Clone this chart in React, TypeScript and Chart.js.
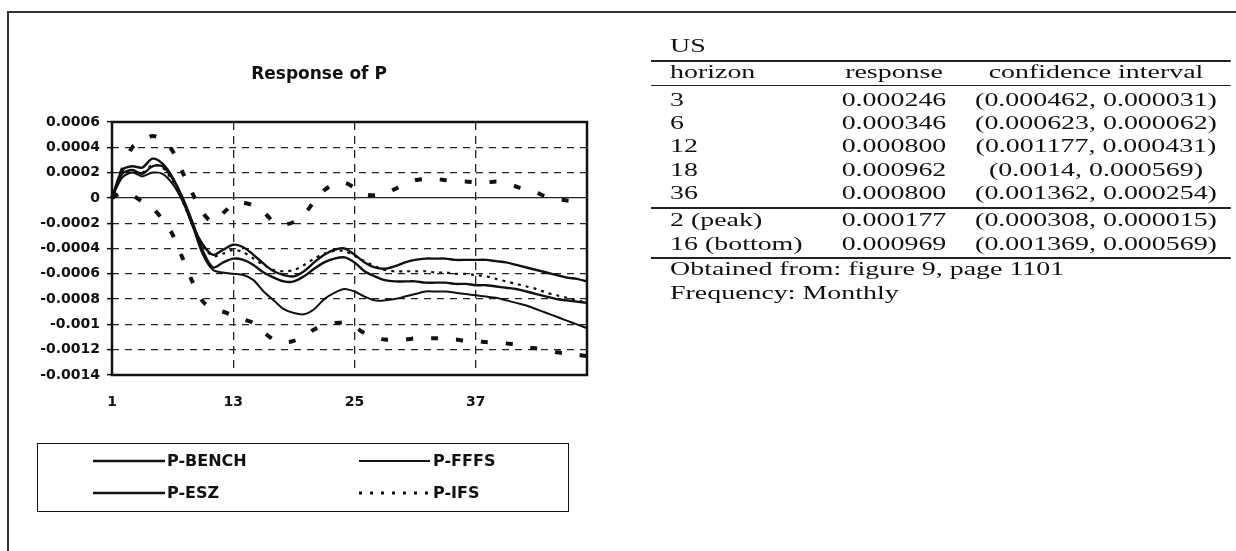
import React, { useEffect, useRef } from "react";
import { Chart, registerables } from "chart.js";

Chart.register(...registerables);

// ---------- chart data ----------
const months = [
  1, 2, 3, 4, 5, 6, 7, 8, 9, 10, 11, 12, 13, 14, 15, 16, 17, 18, 19, 20, 21, 22, 23, 24,
  25, 26, 27, 28, 29, 30, 31, 32, 33, 34, 35, 36, 37, 38, 39, 40, 41, 42, 43, 44, 45, 46, 47, 48,
];
const shownMonths = [1, 13, 25, 37];

const benchValues = [
  0, 0.00022, 0.00025, 0.00024, 0.00031, 0.00027, 0.00016, -0.00001, -0.00022, -0.00037,
  -0.00045, -0.00041, -0.00037, -0.00039, -0.00045, -0.00052, -0.00058, -0.00061, -0.00062, -0.00058,
  -0.00051, -0.00045, -0.00041, -0.0004, -0.00045, -0.00051, -0.00055, -0.00056, -0.00054, -0.00051,
  -0.00049, -0.00048, -0.00048, -0.00048, -0.00049, -0.00049, -0.00049, -0.00049, -0.0005, -0.00051,
  -0.00053, -0.00055, -0.00057, -0.00059, -0.00061, -0.00063, -0.00064, -0.00066,
];
const eszValues = [
  0, 0.00019, 0.00022, 0.00019, 0.00025, 0.00025, 0.00015, 0.0, -0.0002, -0.00042,
  -0.00055, -0.00051, -0.00048, -0.00049, -0.00053, -0.00059, -0.00063, -0.00066, -0.00066, -0.00062,
  -0.00056, -0.00051, -0.00048, -0.00047, -0.00051, -0.00058, -0.00062, -0.00065, -0.00066, -0.00066,
  -0.00066, -0.00067, -0.00067, -0.00067, -0.00068, -0.00068, -0.00069, -0.00069, -0.0007, -0.00071,
  -0.00072, -0.00074, -0.00076, -0.00078, -0.0008, -0.00081, -0.00082, -0.00083,
];
const fffsValues = [
  0, 0.00016, 0.0002, 0.00017, 0.0002, 0.00019, 0.00011, -0.00003, -0.00023, -0.00045,
  -0.00057, -0.00059, -0.0006, -0.00061, -0.00065, -0.00074, -0.00081, -0.00088, -0.00091, -0.00092,
  -0.00088, -0.0008, -0.00075, -0.00072, -0.00074, -0.00078, -0.00081, -0.00081, -0.0008, -0.00078,
  -0.00076, -0.00074, -0.00074, -0.00074, -0.00075, -0.00076, -0.00077, -0.00078, -0.00079, -0.00081,
  -0.00083, -0.00085, -0.00088, -0.00091, -0.00094, -0.00097, -0.001, -0.00103,
];
const ifsValues = [
  0, 0.0002, 0.00021, 0.0002, 0.00026, 0.00024, 0.00013, -0.00003, -0.00022, -0.00038,
  -0.00046, -0.00044, -0.00041, -0.00043, -0.00048, -0.00053, -0.00057, -0.00058, -0.00057, -0.00053,
  -0.00048, -0.00044, -0.00042, -0.00042, -0.00046, -0.0005, -0.00054, -0.00057, -0.00058, -0.00058,
  -0.00058, -0.00058, -0.00059, -0.00059, -0.0006, -0.0006, -0.00061, -0.00062, -0.00064, -0.00066,
  -0.00068, -0.0007, -0.00072, -0.00075, -0.00077, -0.00079, -0.00081, -0.00083,
];
const upperBand = [
  0, 0.00022, 0.0004, 0.00045, 0.00049, 0.00046, 0.00037, 0.0002, 0.00003, -0.00012,
  -0.00019, -0.00012, -0.00005, -0.00004, -0.00006, -0.00011, -0.00019, -0.00021, -0.00019, -0.00013,
  -0.00003, 0.00006, 0.00011, 0.00012, 0.00008, 0.00003, 0.00002, 0.00003, 0.00007, 0.00011,
  0.00014, 0.00015, 0.00015, 0.00014, 0.00013, 0.00013, 0.00012, 0.00012, 0.00013, 0.00012,
  0.00009, 0.00006, 0.00004, 0.00001, -0.00001, -0.00002, -0.00003, -0.00004,
];
const lowerBand = [
  0, 0.00004, 0.00002, -0.00003, -0.00008, -0.00017, -0.00029, -0.00048, -0.00067, -0.00082,
  -0.00088, -0.0009, -0.00093, -0.00096, -0.00099, -0.00106, -0.00112, -0.00114, -0.00113, -0.00109,
  -0.00104, -0.00101, -0.00099, -0.00099, -0.00102, -0.00107, -0.0011, -0.00112, -0.00112, -0.00112,
  -0.00111, -0.00111, -0.00111, -0.00112, -0.00112, -0.00113, -0.00113, -0.00114, -0.00114, -0.00115,
  -0.00116, -0.00118, -0.00119, -0.0012, -0.00122, -0.00123, -0.00124, -0.00125,
];

const yMin = -0.0014;
const yMax = 0.0006;
const yStep = 0.0002;

const chartTitle = "Response of P";
const legendLabels = ["P-BENCH", "P-FFFS", "P-ESZ", "P-IFS"];

// ---------- table data ----------
const tableTitle = "US";
const tableHeader = ["horizon", "response", "confidence interval"];
const tableRows = [
  ["3", "0.000246", "(0.000462, 0.000031)"],
  ["6", "0.000346", "(0.000623, 0.000062)"],
  ["12", "0.000800", "(0.001177, 0.000431)"],
  ["18", "0.000962", "(0.0014, 0.000569)"],
  ["36", "0.000800", "(0.001362, 0.000254)"],
];
const extremaRows = [
  ["2 (peak)", "0.000177", "(0.000308, 0.000015)"],
  ["16 (bottom)", "0.000969", "(0.001369, 0.000569)"],
];
const notes = ["Obtained from: figure 9, page 1101", "Frequency: Monthly"];

const SANS = "'DejaVu Sans', sans-serif";
const SERIF = "'Liberation Serif', 'Times New Roman', serif";

function ChartCanvas() {
  const ref = useRef<HTMLCanvasElement>(null);
  useEffect(() => {
    const canvas = ref.current;
    if (!canvas) return;
    const framePlugin = {
      id: "frame",
      afterDatasetsDraw(chart: any) {
        const { ctx, chartArea: a } = chart;
        ctx.save();
        ctx.strokeStyle = "#111";
        ctx.lineWidth = 2.5;
        ctx.strokeRect(a.left, a.top, a.right - a.left, a.bottom - a.top);
        ctx.restore();
      },
    };
    const tickFont = { family: SANS, size: 14, weight: "bold" as const };
    const chart = new Chart(canvas, {
      type: "line",
      data: {
        labels: months,
        datasets: [
          { label: "upper", data: upperBand, borderColor: "#111", borderWidth: 4, borderDash: [7, 18], pointRadius: 0, tension: 0.3, fill: false },
          { label: "lower", data: lowerBand, borderColor: "#111", borderWidth: 4, borderDash: [7, 18], pointRadius: 0, tension: 0.3, fill: false },
          { label: legendLabels[0], data: benchValues, borderColor: "#111", borderWidth: 2.4, pointRadius: 0, tension: 0.3, fill: false },
          { label: legendLabels[1], data: fffsValues, borderColor: "#111", borderWidth: 2, pointRadius: 0, tension: 0.3, fill: false },
          { label: legendLabels[2], data: eszValues, borderColor: "#111", borderWidth: 2.4, pointRadius: 0, tension: 0.3, fill: false },
          { label: legendLabels[3], data: ifsValues, borderColor: "#111", borderWidth: 2.2, borderDash: [3, 5], pointRadius: 0, tension: 0.3, fill: false },
        ],
      },
      options: {
        responsive: false,
        animation: false,
        devicePixelRatio: 1,
        layout: { padding: { left: 0, right: 23, top: 82, bottom: 0 } },
        plugins: {
          legend: { display: false },
          tooltip: { enabled: false },
          title: { display: false },
        },
        scales: {
          x: {
            type: "category",
            offset: false,
            grid: { color: "#222", lineWidth: 1.3, drawTicks: false },
            border: { display: false, dash: [8, 6] },
            ticks: {
              autoSkip: false,
              maxRotation: 0,
              padding: 19,
              color: "#111",
              font: tickFont,
              callback: (_v: any, i: number) =>
                shownMonths.includes(months[i]) ? String(months[i]) : null,
            },
            afterFit: (s: any) => {
              s.height = 55;
            },
          },
          y: {
            min: yMin,
            max: yMax,
            ticks: {
              stepSize: yStep,
              padding: 7,
              color: "#111",
              font: tickFont,
              callback: (v: any) => String(Number(Number(v).toFixed(4))),
            },
            grid: {
              color: "#222",
              lineWidth: 1.3,
              tickLength: 5,
              tickColor: "#111",
              tickWidth: 1.5,
            },
            border: {
              display: false,
              dash: (c: any) => (c.tick && Math.abs(c.tick.value) < 1e-9 ? [] : [7, 6]),
            },
            afterFit: (s: any) => {
              s.width = 92;
            },
          },
        },
      },
      plugins: [framePlugin],
    } as any);
    return () => chart.destroy();
  }, []);
  return (
    <canvas
      ref={ref}
      width={590}
      height={390}
      style={{ position: "absolute", left: 20, top: 40, width: 590, height: 390 }}
    />
  );
}

function Title() {
  return (
    <div
      style={{
        position: "absolute",
        left: 319 - 150,
        width: 300,
        top: 73 - 11,
        height: 22,
        lineHeight: "22px",
        textAlign: "center",
        fontFamily: SANS,
        fontWeight: "bold",
        fontSize: 17,
        color: "#111",
        whiteSpace: "nowrap",
      }}
    >
      {chartTitle}
    </div>
  );
}

function Legend() {
  const txt = (left: number, cy: number, s: string) => (
    <div
      style={{
        position: "absolute",
        left,
        top: cy - 10,
        height: 20,
        lineHeight: "20px",
        fontFamily: SANS,
        fontWeight: "bold",
        fontSize: 16,
        color: "#111",
        whiteSpace: "nowrap",
      }}
    >
      {s}
    </div>
  );
  return (
    <>
      <div
        style={{
          position: "absolute",
          left: 37,
          top: 443,
          width: 532,
          height: 69,
          border: "1.5px solid #111",
          boxSizing: "border-box",
        }}
      />
      <svg
        width={1236}
        height={551}
        style={{ position: "absolute", left: 0, top: 0, pointerEvents: "none" }}
      >
        <line x1={93} y1={461} x2={165} y2={461} stroke="#111" strokeWidth={2.4} />
        <line x1={359} y1={461} x2={430} y2={461} stroke="#111" strokeWidth={2} />
        <line x1={93} y1={493} x2={165} y2={493} stroke="#111" strokeWidth={2.4} />
        <line x1={359} y1={493} x2={430} y2={493} stroke="#111" strokeWidth={3} strokeDasharray="3 8" />
      </svg>
      {txt(167, 461, legendLabels[0])}
      {txt(433, 461, legendLabels[1])}
      {txt(167, 493, legendLabels[2])}
      {txt(433, 493, legendLabels[3])}
    </>
  );
}

function Table() {
  const S = 1.55;
  const W = (1230 - 651) / S;
  const col1 = 12.3;
  const col2 = (894 - 651) / S;
  const col3 = (1096 - 651) / S;
  const base: React.CSSProperties = {
    position: "absolute",
    height: 22,
    lineHeight: "22px",
    fontFamily: SERIF,
    fontSize: 18,
    color: "#111",
    whiteSpace: "nowrap",
  };
  const left = (x: number, cy: number, s: string, k: string) => (
    <div key={k} style={{ ...base, left: x, top: cy - 11 }}>
      {s}
    </div>
  );
  const center = (cx: number, cy: number, s: string, k: string) => (
    <div key={k} style={{ ...base, left: cx - 120, width: 240, textAlign: "center", top: cy - 11 }}>
      {s}
    </div>
  );
  const rule = (y: number, t: number, k: string) => (
    <div
      key={k}
      style={{ position: "absolute", left: 0, width: W, top: y - t / 2, height: t, background: "#222" }}
    />
  );
  const rowY = [100, 123, 146.3, 169.8, 193.3];
  const extY = [219.7, 243.6];
  const noteY = [268.9, 292.8];
  return (
    <div
      style={{
        position: "absolute",
        left: 651,
        top: 0,
        width: W,
        height: 320,
        transform: `scaleX(${S})`,
        transformOrigin: "0 0",
      }}
    >
      {left(col1, 45.7, tableTitle, "title")}
      {rule(60.5, 2, "r0")}
      {left(col1, 72, tableHeader[0], "h0")}
      {center(col2, 72, tableHeader[1], "h1")}
      {center(col3, 72, tableHeader[2], "h2")}
      {rule(85.4, 1.5, "r1")}
      {tableRows.map((r, i) => (
        <React.Fragment key={"row" + i}>
          {left(col1, rowY[i], r[0], "a" + i)}
          {center(col2, rowY[i], r[1], "b" + i)}
          {center(col3, rowY[i], r[2], "c" + i)}
        </React.Fragment>
      ))}
      {rule(208, 2, "r2")}
      {extremaRows.map((r, i) => (
        <React.Fragment key={"ext" + i}>
          {left(col1, extY[i], r[0], "ea" + i)}
          {center(col2, extY[i], r[1], "eb" + i)}
          {center(col3, extY[i], r[2], "ec" + i)}
        </React.Fragment>
      ))}
      {rule(257.6, 2, "r3")}
      {notes.map((n, i) => left(col1, noteY[i], n, "n" + i))}
    </div>
  );
}

export default function App() {
  return (
    <div
      style={{
        position: "fixed",
        left: 0,
        top: 0,
        width: 1236,
        height: 551,
        background: "#fff",
        overflow: "hidden",
      }}
    >
      <div
        style={{
          position: "absolute",
          left: 7,
          top: 11,
          width: 1236 - 7,
          height: 551 - 11,
          borderTop: "2px solid #333",
          borderLeft: "2px solid #333",
          boxSizing: "border-box",
        }}
      />
      <ChartCanvas />
      <Title />
      <Legend />
      <Table />
    </div>
  );
}
